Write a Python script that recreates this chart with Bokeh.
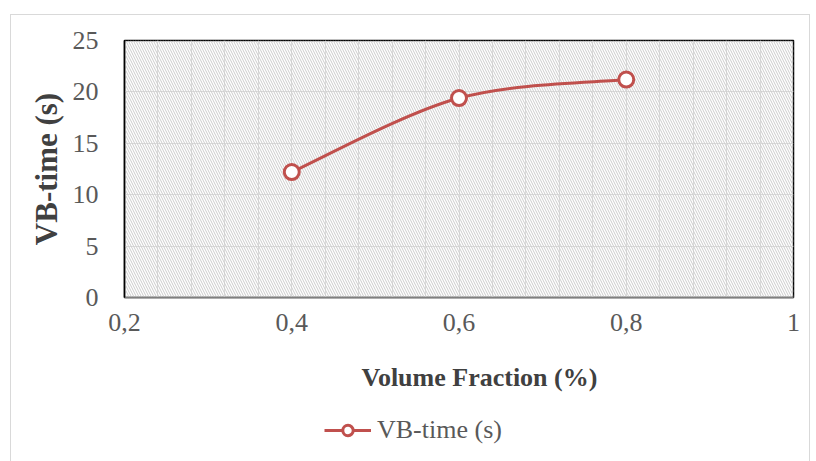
from bokeh.plotting import figure
from bokeh.layouts import column
from bokeh.models import (Range1d, FixedTicker, BoxAnnotation, Legend, LegendItem, Label)
from bokeh.embed import file_html
from bokeh.resources import INLINE

# data
volume_fraction = [0.4, 0.6, 0.8]
vb_time = [12.2, 19.4, 21.2]
x_ticks = [0.2, 0.4, 0.6, 0.8, 1.0]
x_tick_labels = ["0,2", "0,4", "0,6", "0,8", "1"]
y_ticks = [0, 5, 10, 15, 20, 25]
x_minor_grid = [0.2 + 0.04 * i for i in range(21)]
series_name = "VB-time (s)"
x_title = "Volume Fraction (%)"
y_title = "VB-time (s)"

RED = "#C0504D"
FONT = "Liberation Serif"
TXT = "#595959"

p = figure(width=798, height=327, output_backend="svg", toolbar_location=None,
           x_range=Range1d(0.2, 1.0), y_range=Range1d(0, 25),
           min_border_left=113, min_border_right=16, min_border_top=25, min_border_bottom=45)

# hatched plot area
p.add_layout(BoxAnnotation(fill_color="white", fill_alpha=0, line_alpha=0,
                           hatch_pattern="\\", hatch_color="#cccccc",
                           hatch_scale=5, hatch_weight=1, level="underlay"))

p.outline_line_color = "black"
p.outline_line_width = 1.5

p.xaxis.ticker = FixedTicker(ticks=x_ticks)
p.xaxis.major_label_overrides = {t: l for t, l in zip(x_ticks, x_tick_labels)}
p.yaxis.ticker = FixedTicker(ticks=y_ticks)
p.xgrid.ticker = FixedTicker(ticks=x_minor_grid)
p.ygrid.ticker = FixedTicker(ticks=y_ticks)
for g in (p.xgrid, p.ygrid):
    g.grid_line_color = "#dcdcdc"
    g.grid_line_width = 1

for ax in (p.xaxis, p.yaxis):
    ax.major_tick_line_color = None
    ax.minor_tick_line_color = None
    ax.major_label_text_font = FONT
    ax.major_label_text_font_size = "26px"
    ax.major_label_text_color = TXT
    ax.axis_label_text_font = FONT
    ax.axis_label_text_font_style = "bold"
    ax.axis_label_text_color = "#404040"
p.yaxis.axis_label_text_font_size = "31px"
p.xaxis.axis_line_color = "#7f7f7f"
p.xaxis.axis_line_width = 1.5
p.yaxis.axis_line_color = "black"
p.yaxis.axis_line_width = 1.5
p.xaxis.major_label_standoff = 10
p.yaxis.major_label_standoff = 20
p.yaxis.axis_label = y_title
p.yaxis.axis_label_standoff = 6

# smoothed line through the points (Catmull-Rom style bezier segments)
n = len(volume_fraction)
x0, y0, x1, y1, cx0, cy0, cx1, cy1 = [], [], [], [], [], [], [], []
for i in range(n - 1):
    pm = max(i - 1, 0)
    pp = min(i + 2, n - 1)
    x0.append(volume_fraction[i]); y0.append(vb_time[i])
    x1.append(volume_fraction[i + 1]); y1.append(vb_time[i + 1])
    cx0.append(volume_fraction[i] + (volume_fraction[i + 1] - volume_fraction[pm]) / 6)
    cy0.append(vb_time[i] + (vb_time[i + 1] - vb_time[pm]) / 6)
    cx1.append(volume_fraction[i + 1] - (volume_fraction[pp] - volume_fraction[i]) / 6)
    cy1.append(vb_time[i + 1] - (vb_time[pp] - vb_time[i]) / 6)
p.bezier(x0=x0, y0=y0, x1=x1, y1=y1, cx0=cx0, cy0=cy0, cx1=cx1, cy1=cy1,
         line_color=RED, line_width=3)
p.scatter(volume_fraction, vb_time, marker="circle", size=15,
          fill_color="white", line_color=RED, line_width=3)

# strip below the chart: x-axis title and legend
# (legend renderers sit outside the strip's visible range)
lf = figure(width=798, height=119, output_backend="svg", toolbar_location=None,
            x_axis_type=None, y_axis_type=None,
            x_range=Range1d(0, 1), y_range=Range1d(100, 101),
            min_border=0, outline_line_color=None)
lf.grid.visible = False
lf.add_layout(Label(x=237, y=84, x_units="screen", y_units="screen", text=x_title,
                    text_font=FONT, text_font_size="26px", text_font_style="bold",
                    text_color="#404040", text_baseline="middle", text_align="left"))
leg_line = lf.line(volume_fraction, vb_time, line_color=RED, line_width=3)
leg_pts = lf.scatter(volume_fraction, vb_time, marker="circle", size=15,
                     fill_color="white", line_color=RED, line_width=3)
legend = Legend(items=[LegendItem(label=series_name, renderers=[leg_line, leg_pts])],
                location=(196, 12), orientation="horizontal",
                label_text_font=FONT, label_text_font_size="26px", label_text_color=TXT,
                border_line_alpha=0, background_fill_alpha=0,
                glyph_width=47, glyph_height=26, label_standoff=6, margin=0, padding=4)
lf.add_layout(legend)

layout = column(p, lf, spacing=0)
layout.margin = (14, 0, 0, 10)
layout.styles = {"border": "1px solid #d9d9d9"}

open("out.html", "w").write(file_html(layout, INLINE))
